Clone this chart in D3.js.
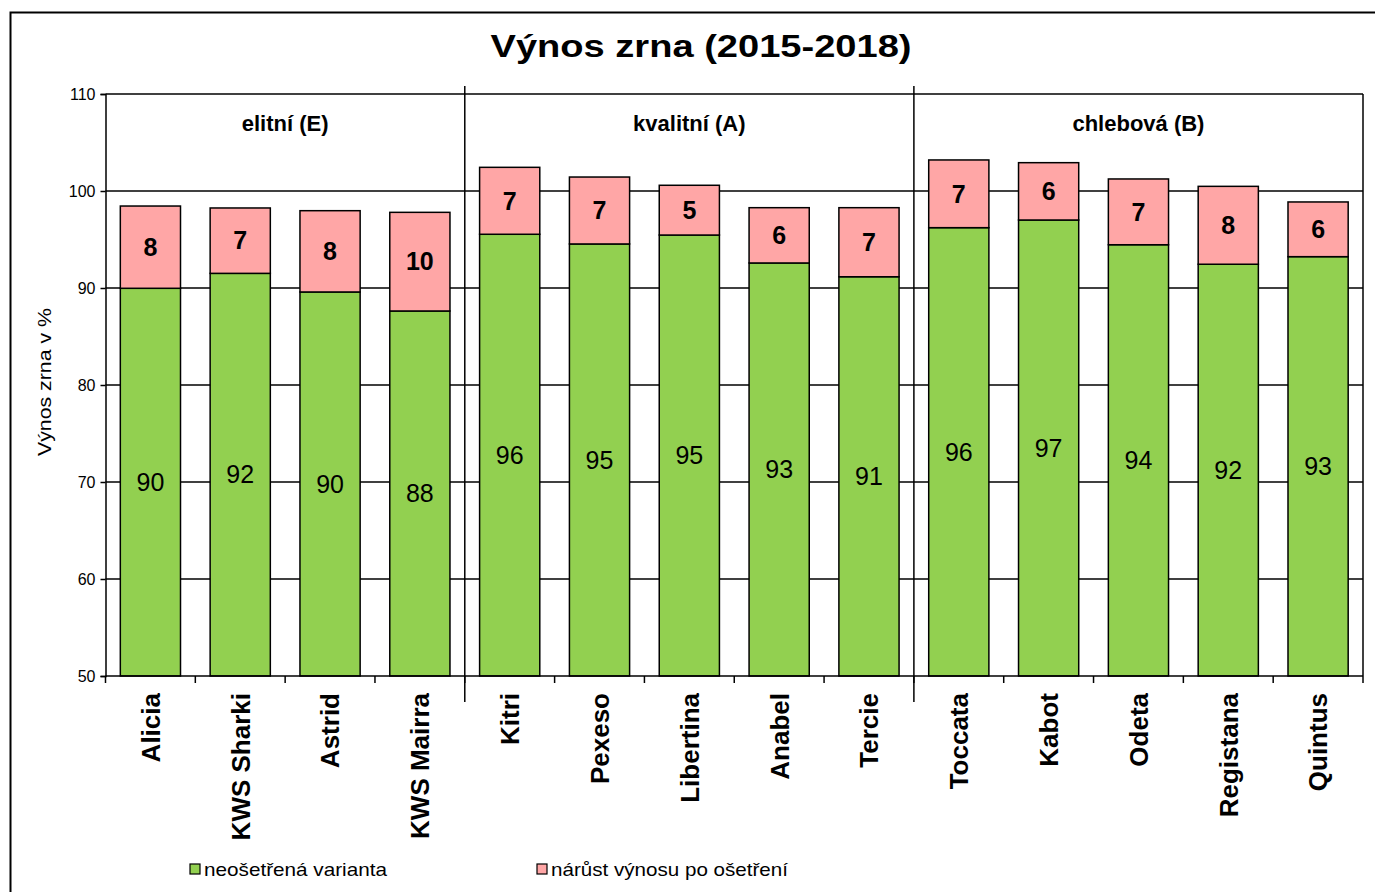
<!DOCTYPE html>
<html>
<head>
<meta charset="utf-8">
<script src="https://cdn.jsdelivr.net/npm/d3@7"></script>
<style>
  html, body { margin: 0; padding: 0; background: #fff; }
  svg { display: block; font-family: "Liberation Sans", Arial, sans-serif; }
</style>
</head>
<body>
<svg id="chart" width="1375" height="892"></svg>
<script>
// ---- data ----
const categories = ["Alicia", "KWS Sharki", "Astrid", "KWS Mairra",
  "Kitri", "Pexeso", "Libertina", "Anabel", "Tercie",
  "Toccata", "Kabot", "Odeta", "Registana", "Quintus"];
const untreated = [89.97, 91.51, 89.59, 87.63, 95.54, 94.54, 95.46, 92.58, 91.16, 96.22, 97.01, 94.46, 92.45, 93.23];
const increase  = [8.48, 6.74, 8.38, 10.17, 6.9, 6.9, 5.13, 5.7, 7.12, 6.98, 5.91, 6.78, 8.03, 5.64];
const groupNames = ["elitní (E)", "kvalitní (A)", "chlebová (B)"];
const groupSizes = [4, 5, 5];
const yTicks = [50, 60, 70, 80, 90, 100, 110];
const seriesNames = ["neošetřená varianta", "nárůst výnosu po ošetření"];
const title = "Výnos zrna (2015-2018)";
const yTitle = "Výnos zrna v %";

// ---- layout ----
const W = 1375, H = 892;
const plot = { left: 105.5, right: 1363, top: 94, bottom: 676 };
const colors = ["#92d050", "#ffa6a6"];

const svg = d3.select("#chart");

// outer frame
svg.append("path")
  .attr("d", `M10.5,${H} L10.5,12.5 L${W},12.5`)
  .attr("fill", "none").attr("stroke", "#000").attr("stroke-width", 2);

const x = d3.scaleBand().domain(categories)
  .range([plot.left, plot.right]).paddingInner(0.33).paddingOuter(0.165);
const y = d3.scaleLinear().domain([50, 110]).range([plot.bottom, plot.top]);

// gridlines
svg.append("g").selectAll("line").data(yTicks.filter(t => t > 50)).join("line")
  .attr("x1", plot.left).attr("x2", plot.right)
  .attr("y1", d => y(d)).attr("y2", d => y(d))
  .attr("stroke", "#000").attr("stroke-width", 1.5);

// right border
svg.append("line").attr("x1", plot.right).attr("x2", plot.right)
  .attr("y1", plot.top).attr("y2", plot.bottom)
  .attr("stroke", "#000").attr("stroke-width", 1.5);

// y axis
const yAxis = d3.axisLeft(y).tickValues(yTicks).tickSize(5).tickPadding(5);
const gy = svg.append("g").attr("transform", `translate(${plot.left},0)`).call(yAxis);
gy.select(".domain").attr("stroke", "#000").attr("stroke-width", 1.5);
gy.selectAll(".tick line").attr("stroke", "#000").attr("stroke-width", 1.5);
gy.selectAll(".tick text").attr("font-size", 16).attr("fill", "#000")
  .attr("font-family", "Liberation Sans, Arial, sans-serif");

// stacked data
const stackData = categories.map((c, i) => ({ cat: c, a: untreated[i], b: increase[i] }));
const stack = d3.stack().keys(["a", "b"])(stackData.map(d => ({ cat: d.cat, a: d.a - 50, b: d.b })));

const bars = svg.append("g");
stack.forEach((layer, li) => {
  bars.append("g").selectAll("rect").data(layer).join("rect")
    .attr("x", d => x(d.data.cat))
    .attr("width", x.bandwidth())
    .attr("y", d => y(d[1] + 50))
    .attr("height", d => y(d[0] + 50) - y(d[1] + 50))
    .attr("fill", colors[li]).attr("stroke", "#000").attr("stroke-width", 1.5);
});

// value labels
svg.append("g").selectAll("text").data(stackData).join("text")
  .attr("x", d => x(d.cat) + x.bandwidth() / 2)
  .attr("y", d => (y(50) + y(d.a)) / 2)
  .attr("dy", "0.35em").attr("text-anchor", "middle")
  .attr("font-size", 25).attr("fill", "#000")
  .text(d => Math.round(d.a));
svg.append("g").selectAll("text").data(stackData).join("text")
  .attr("x", d => x(d.cat) + x.bandwidth() / 2)
  .attr("y", d => (y(d.a) + y(d.a + d.b)) / 2)
  .attr("dy", "0.35em").attr("text-anchor", "middle")
  .attr("font-size", 25).attr("font-weight", "bold").attr("fill", "#000")
  .text(d => Math.round(d.b));

// x axis line + ticks at band boundaries
svg.append("line").attr("x1", plot.left).attr("x2", plot.right)
  .attr("y1", plot.bottom).attr("y2", plot.bottom)
  .attr("stroke", "#000").attr("stroke-width", 1.5);
const step = x.step();
const boundaries = d3.range(categories.length + 1).map(i => plot.left + i * step);
svg.append("g").selectAll("line").data(boundaries).join("line")
  .attr("x1", d => d).attr("x2", d => d)
  .attr("y1", plot.bottom).attr("y2", plot.bottom + 7)
  .attr("stroke", "#000").attr("stroke-width", 1.5);

// group separators
const cum = groupSizes.map((s, i) => d3.sum(groupSizes.slice(0, i + 1)));
const sepIdx = cum.slice(0, -1);
svg.append("g").selectAll("line").data(sepIdx).join("line")
  .attr("x1", d => plot.left + d * step).attr("x2", d => plot.left + d * step)
  .attr("y1", plot.top - 8).attr("y2", plot.bottom + 26)
  .attr("stroke", "#000").attr("stroke-width", 1.5);

// group labels
svg.append("g").selectAll("text").data(groupNames).join("text")
  .attr("x", (d, i) => {
    const start = i === 0 ? 0 : cum[i - 1];
    return plot.left + (start + groupSizes[i] / 2) * step;
  })
  .attr("y", 131).attr("text-anchor", "middle")
  .attr("font-size", 22).attr("font-weight", "bold").attr("fill", "#000")
  .text(d => d);

// category labels
svg.append("g").selectAll("text").data(categories).join("text")
  .attr("transform", d => `translate(${x(d) + x.bandwidth() / 2},693) rotate(-90)`)
  .attr("dy", "0.36em").attr("text-anchor", "end")
  .attr("font-size", 26).attr("font-weight", "bold").attr("fill", "#000")
  .text(d => d);

// title
svg.append("text").attr("x", 701).attr("y", 57).attr("text-anchor", "middle")
  .attr("font-size", 32).attr("font-weight", "bold").attr("fill", "#000")
  .attr("textLength", 421).attr("lengthAdjust", "spacingAndGlyphs")
  .text(title);

// y axis title
svg.append("text").attr("transform", "translate(45,382) rotate(-90)")
  .attr("dy", "0.35em").attr("text-anchor", "middle")
  .attr("font-size", 18).attr("fill", "#000")
  .attr("textLength", 148).attr("lengthAdjust", "spacingAndGlyphs")
  .text(yTitle);

// legend
const legendX = [190, 537];
const legendLen = [183, 237];
const lg = svg.append("g");
seriesNames.forEach((name, i) => {
  lg.append("rect").attr("x", legendX[i]).attr("y", 864).attr("width", 10).attr("height", 10)
    .attr("fill", colors[i]).attr("stroke", "#000").attr("stroke-width", 1.2);
  lg.append("text").attr("x", legendX[i] + 14).attr("y", 876)
    .attr("font-size", 19).attr("fill", "#000")
    .attr("textLength", legendLen[i]).attr("lengthAdjust", "spacingAndGlyphs")
    .text(name);
});
</script>
</body>
</html>
